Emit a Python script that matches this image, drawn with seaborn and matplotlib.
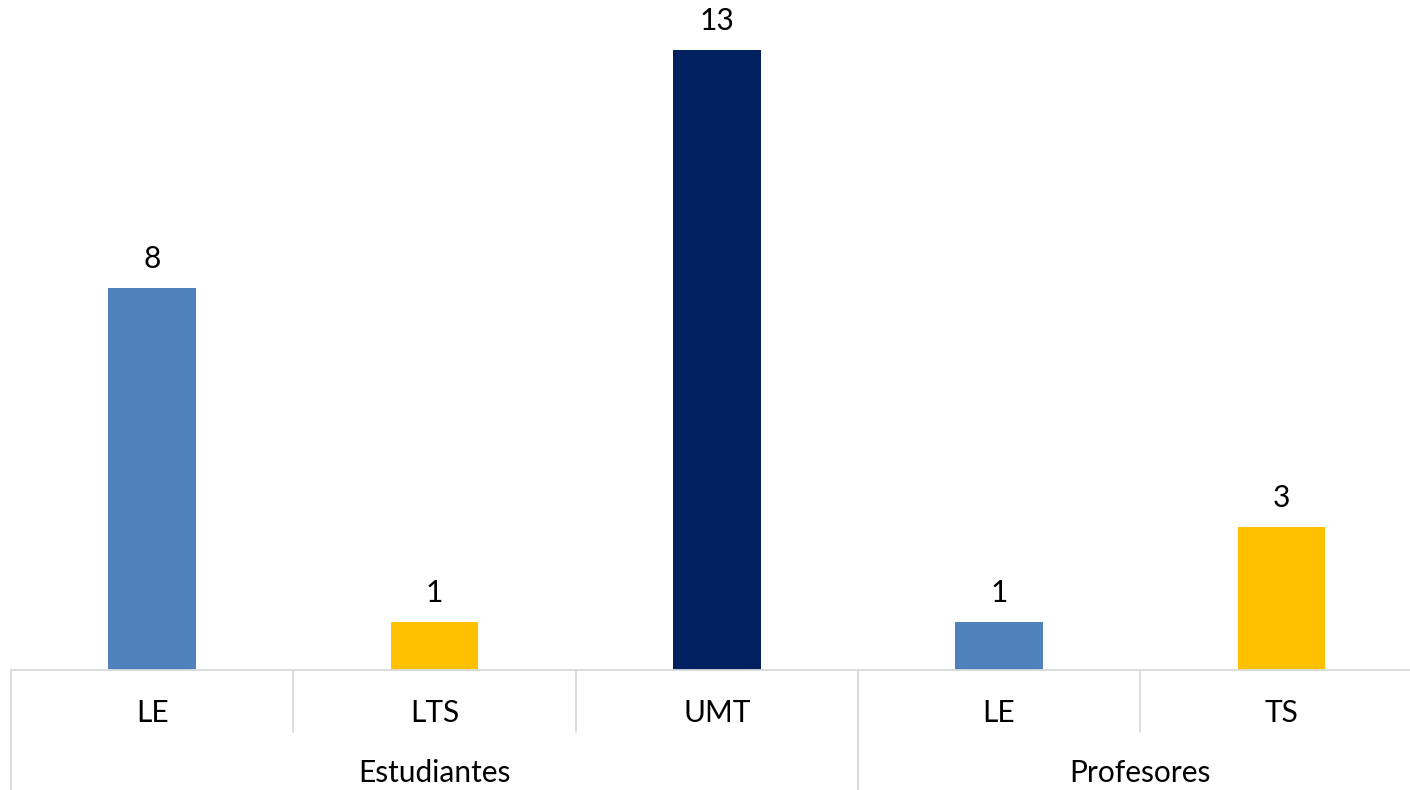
import matplotlib
matplotlib.use("Agg")
import matplotlib.pyplot as plt
import matplotlib.transforms as mtransforms
import seaborn as sns
import pandas as pd

# Data
keys = ["E-LE", "E-LTS", "E-UMT", "P-LE", "P-TS"]
labels = ["LE", "LTS", "UMT", "LE", "TS"]
values = [8, 1, 13, 1, 3]
groups = ["Estudiantes", "Profesores"]
group_sizes = [3, 2]
bar_colors = ["#4F81BD", "#FFC000", "#002060", "#4F81BD", "#FFC000"]

sns.set_theme(style="white")
plt.rcParams["font.family"] = ["Lato", "DejaVu Sans"]

df = pd.DataFrame({"key": keys, "value": values})

fig = plt.figure(figsize=(14.1, 7.9), dpi=100)
W, H = 1410, 790
left_px, right_px = 11, 11 + 5 * 282.3
top_px, base_px = 50, 670
ax = fig.add_axes([left_px / W, 1 - base_px / H, (right_px - left_px) / W, (base_px - top_px) / H])

sns.barplot(data=df, x="key", y="value", hue="key", palette=bar_colors,
            order=keys, hue_order=keys, width=0.31, legend=False, ax=ax,
            saturation=1, linewidth=0)

FS = 21.5
ax.set_xlim(-0.5, 4.5)
ax.set_ylim(0, 13)
for s in ax.spines.values():
    s.set_visible(False)
ax.set_yticks([])
ax.set_xlabel("")
ax.set_ylabel("")
ax.set_xticks(range(len(labels)))
ax.set_xticklabels(labels, fontsize=FS, color="#000000")
ax.tick_params(axis="x", length=0, pad=21)

for cont in ax.containers:
    ax.bar_label(cont, fmt="%d", padding=11, fontsize=FS, color="#000000")

line_c = "#D9D9D9"
trans = mtransforms.blended_transform_factory(ax.transData, ax.transAxes)
axes_h = base_px - top_px
y_sep = -(732 - base_px) / axes_h
y_bot = -(H - base_px) / axes_h - 0.01

# baseline
ax.plot([-0.5, 4.5], [0, 0], transform=trans, color=line_c, lw=1.3, clip_on=False)
# left border
ax.plot([-0.5, -0.5], [0, y_bot], transform=trans, color=line_c, lw=1.3, clip_on=False)
# separators
start = 0
bounds = []
for g in group_sizes:
    bounds.append((start, start + g))
    start += g
group_edges = {b[1] for b in bounds}
for i in range(1, len(labels)):
    xe = i - 0.5
    if i in group_edges:
        ax.plot([xe, xe], [0, y_bot], transform=trans, color=line_c, lw=1.3, clip_on=False)
    else:
        ax.plot([xe, xe], [0, y_sep], transform=trans, color=line_c, lw=1.3, clip_on=False)

y_grp = -(773 - base_px) / axes_h
for name, (a, b) in zip(groups, bounds):
    ax.text((a + b - 1) / 2, y_grp, name, transform=trans, ha="center", va="center",
            fontsize=FS, color="#000000")

fig.savefig("out.png", dpi=100)
